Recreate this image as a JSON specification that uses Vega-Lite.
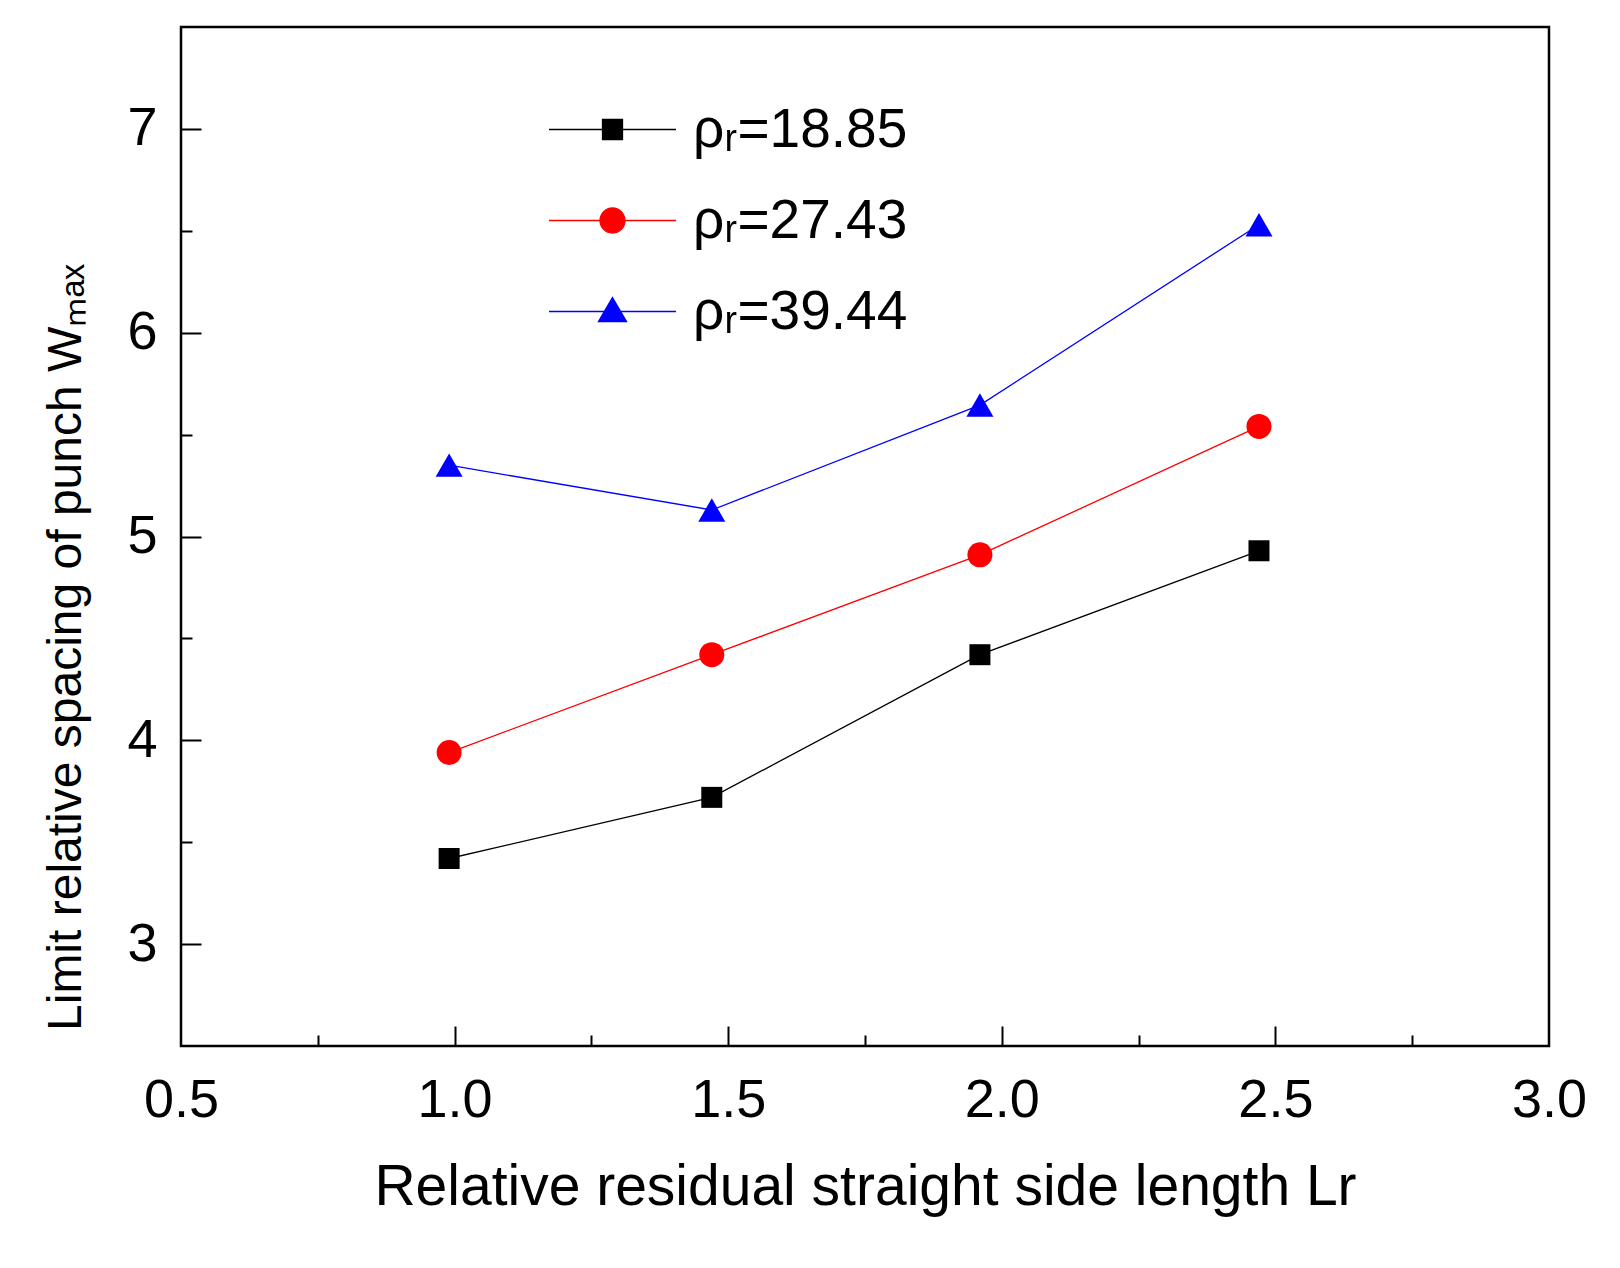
{
  "$schema": "https://vega.github.io/schema/vega-lite/v6.json",
  "width": 1368,
  "height": 1019,
  "autosize": {"type": "none"},
  "padding": {"left": 181, "top": 27, "right": 71, "bottom": 222},
  "background": "white",
  "config": {
    "font": "Liberation Sans",
    "view": {"stroke": "black", "strokeWidth": 2.5},
    "axis": {
      "grid": false,
      "domain": false,
      "tickColor": "black",
      "tickWidth": 2,
      "labelColor": "black",
      "titleColor": "black",
      "labelFont": "Liberation Sans",
      "titleFont": "Liberation Sans",
      "labelFontSize": 54,
      "titleFontWeight": "normal"
    },
    "legend": {
      "orient": "none",
      "legendX": 387,
      "legendY": 58,
      "padding": 0,
      "title": null,
      "symbolSize": 7691,
      "symbolStrokeWidth": 1.3,
      "symbolOpacity": 1,
      "labelFont": "Liberation Sans",
      "labelFontSize": 55,
      "labelColor": "black",
      "labelOffset": 36,
      "labelLimit": 400,
      "rowPadding": 18
    }
  },
  "datasets": {
    "pts": [
      {"series": "ρᵣ=18.85", "lr": 0.99, "w": 3.42},
      {"series": "ρᵣ=18.85", "lr": 1.47, "w": 3.72},
      {"series": "ρᵣ=18.85", "lr": 1.96, "w": 4.42},
      {"series": "ρᵣ=18.85", "lr": 2.47, "w": 4.93},
      {"series": "ρᵣ=27.43", "lr": 0.99, "w": 3.94},
      {"series": "ρᵣ=27.43", "lr": 1.47, "w": 4.42},
      {"series": "ρᵣ=27.43", "lr": 1.96, "w": 4.91},
      {"series": "ρᵣ=27.43", "lr": 2.47, "w": 5.54},
      {"series": "ρᵣ=39.44", "lr": 0.99, "w": 5.35},
      {"series": "ρᵣ=39.44", "lr": 1.47, "w": 5.13},
      {"series": "ρᵣ=39.44", "lr": 1.96, "w": 5.645},
      {"series": "ρᵣ=39.44", "lr": 2.47, "w": 6.53}
    ]
  },
  "data": {"name": "pts"},
  "layer": [
    {
      "mark": {"type": "line", "strokeWidth": 1.3},
      "encoding": {
        "x": {
          "field": "lr",
          "type": "quantitative",
          "scale": {"domain": [0.5, 3.0], "nice": false, "zero": false},
          "axis": {
            "orient": "bottom",
            "values": [0.5, 1, 1.5, 2, 2.5, 3],
            "format": ".1f",
            "ticks": false,
            "labelPadding": 27,
            "labelFlush": false,
            "title": "Relative residual straight side length Lr",
            "titleFontSize": 57,
            "titlePadding": 32
          }
        },
        "y": {
          "field": "w",
          "type": "quantitative",
          "scale": {"domain": [2.5, 7.5], "nice": false, "zero": false},
          "axis": {
            "orient": "left",
            "values": [3, 4, 5, 6, 7],
            "format": "d",
            "ticks": false,
            "labelPadding": 24,
            "labelFlush": false,
            "title": "Limit relative spacing of punch Wₘₐₓ",
            "titleFontSize": 48,
            "titlePadding": 36,
            "titleY": 620
          }
        },
        "color": {
          "field": "series",
          "type": "nominal",
          "scale": {"range": ["#000000", "#ff0000", "#0000ff"]},
          "legend": null
        }
      }
    },
    {
      "transform": [{"filter": "datum.series === 'ρᵣ=18.85'"}],
      "mark": {"type": "point", "filled": true, "opacity": 1, "shape": "square", "size": 441},
      "encoding": {
        "x": {
          "field": "lr",
          "type": "quantitative",
          "axis": {
            "orient": "bottom",
            "values": [1, 1.5, 2, 2.5],
            "tickSize": -20,
            "labels": false,
            "title": null
          }
        },
        "y": {
          "field": "w",
          "type": "quantitative",
          "axis": {
            "orient": "left",
            "values": [3, 4, 5, 6, 7],
            "tickSize": -20,
            "labels": false,
            "title": null
          }
        },
        "color": {"field": "series", "type": "nominal", "legend": null}
      }
    },
    {
      "transform": [{"filter": "datum.series === 'ρᵣ=27.43'"}],
      "mark": {"type": "point", "filled": true, "opacity": 1, "shape": "circle", "size": 625},
      "encoding": {
        "x": {"field": "lr", "type": "quantitative", "axis": null},
        "y": {"field": "w", "type": "quantitative", "axis": null},
        "color": {"field": "series", "type": "nominal", "legend": null}
      }
    },
    {
      "transform": [{"filter": "datum.series === 'ρᵣ=39.44'"}],
      "mark": {"type": "point", "filled": true, "opacity": 1, "shape": "triangle-up", "size": 729},
      "encoding": {
        "x": {"field": "lr", "type": "quantitative", "axis": null},
        "y": {"field": "w", "type": "quantitative", "axis": null},
        "color": {"field": "series", "type": "nominal", "legend": null}
      }
    },
    {
      "mark": {"type": "point", "filled": true, "opacity": 0},
      "encoding": {
        "x": {
          "field": "lr",
          "type": "quantitative",
          "axis": {
            "orient": "bottom",
            "values": [0.75, 1.25, 1.75, 2.25, 2.75],
            "tickSize": -11,
            "labels": false,
            "title": null
          }
        },
        "y": {
          "field": "w",
          "type": "quantitative",
          "axis": {
            "orient": "left",
            "values": [3.5, 4.5, 5.5, 6.5],
            "tickSize": -11,
            "labels": false,
            "title": null
          }
        },
        "fill": {
          "field": "series",
          "type": "nominal",
          "scale": {"range": ["#000000", "#ff0000", "#0000ff"]}
        },
        "stroke": {
          "field": "series",
          "type": "nominal",
          "scale": {"range": ["#000000", "#ff0000", "#0000ff"]}
        },
        "shape": {
          "field": "series",
          "type": "nominal",
          "scale": {
            "range": [
              "M-1.448,0H1.448M-0.228,-0.228H0.228V0.228H-0.228Z",
              "M-1.448,0H1.448M-0.285,0A0.285,0.285,0,1,0,0.285,0A0.285,0.285,0,1,0,-0.285,0Z",
              "M-1.448,0H1.448M0,-0.32L0.32,0.23L-0.32,0.23Z"
            ]
          }
        }
      }
    }
  ],
  "resolve": {
    "axis": {"x": "independent", "y": "independent"}
  }
}
